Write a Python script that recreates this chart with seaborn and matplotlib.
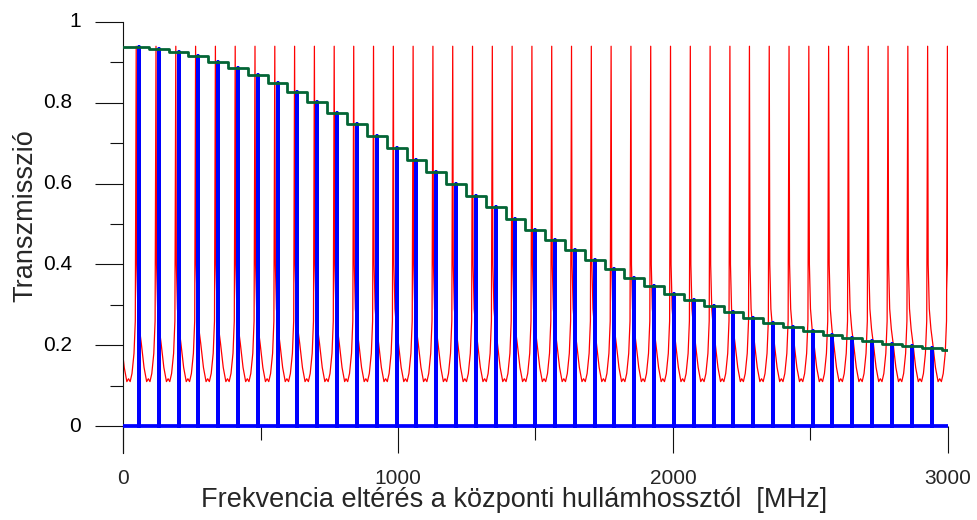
import numpy as np
import pandas as pd
import matplotlib
matplotlib.use("Agg")
import matplotlib.pyplot as plt
import seaborn as sns
from matplotlib.ticker import MultipleLocator

# ---------------- data ----------------
# resonance positions (MHz) and their transmitted peak heights (blue comb)
peak_freqs = [58, 130, 202, 274, 346, 418, 490, 562, 634, 706, 778, 850, 922, 995,
              1067, 1139, 1211, 1283, 1355, 1427, 1499, 1571, 1643, 1715, 1787, 1860,
              1932, 2004, 2076, 2148, 2220, 2292, 2364, 2436, 2508, 2580, 2652, 2724,
              2797, 2869, 2941]
peak_heights = [0.939, 0.933, 0.925, 0.916, 0.902, 0.887, 0.869, 0.848, 0.826, 0.801,
                0.775, 0.747, 0.718, 0.687, 0.658, 0.629, 0.599, 0.569, 0.541, 0.512,
                0.485, 0.460, 0.435, 0.412, 0.389, 0.367, 0.347, 0.328, 0.313, 0.298,
                0.282, 0.267, 0.256, 0.244, 0.234, 0.225, 0.217, 0.210, 0.204, 0.198,
                0.193]
# envelope (green step line): one more step beyond the last resonance
envelope_extra_freq = 3013
envelope_extra_height = 0.188

# red etalon transmission: apex positions (MHz) and one period's shape around an apex
red_apex_freqs = [-24, 48, 120, 192, 264, 336, 408, 480, 552, 624, 696, 768, 839, 911,
                  983, 1055, 1127, 1199, 1271, 1343, 1415, 1487, 1559, 1631, 1703, 1775,
                  1847, 1919, 1991, 2063, 2135, 2207, 2278, 2350, 2422, 2494, 2566, 2638,
                  2710, 2782, 2854, 2926, 2998]
red_profile_offsets = [-28, -22, -15.3, -8, -3.3, 0, 2.0, 6.0, 12.0, 18.5, 28.5, 38]
red_profile_values = [0.117, 0.110, 0.13, 0.18, 0.26, 0.94, 0.40, 0.29, 0.24, 0.205,
                      0.145, 0.110]

x_ticks = [0, 1000, 2000, 3000]
y_ticks = [0, 0.2, 0.4, 0.6, 0.8, 1]
y_tick_labels = ["0", "0.2", "0.4", "0.6", "0.8", "1"]
x_label = "Frekvencia eltérés a központi hullámhossztól  [MHz]"
y_label = "Transzmisszió"

# ---------------- build plotting tables ----------------
red_x, red_y = [], []
for a in red_apex_freqs:
    for o, v in zip(red_profile_offsets, red_profile_values):
        red_x.append(a + o)
        red_y.append(v)
red_df = pd.DataFrame({"f": red_x, "T": red_y})

comb_x, comb_y = [0.0], [0.0]
for p, h in zip(peak_freqs, peak_heights):
    comb_x += [p, p, p]
    comb_y += [0.0, h, 0.0]
comb_x.append(3000.0)
comb_y.append(0.0)
comb_df = pd.DataFrame({"f": comb_x, "T": comb_y})

env_f = peak_freqs + [envelope_extra_freq]
env_h = peak_heights + [envelope_extra_height]
edges = [0.0] + [(env_f[i] + env_f[i + 1]) / 2 for i in range(len(env_f) - 1)] + [3000.0]
env_df = pd.DataFrame({"f": edges, "T": env_h + [env_h[-1]]})

# ---------------- style ----------------
sns.set_style("ticks")
plt.rcParams["font.family"] = ["Liberation Sans", "DejaVu Sans"]

fig = plt.figure(figsize=(9.77, 5.2), dpi=100)
ax = fig.add_axes([0.1259, 0.1288, 0.8444, 0.8289])

sns.lineplot(data=red_df, x="f", y="T", sort=False, estimator=None, color="#ff0000",
             linewidth=0.9, ax=ax, zorder=2)
sns.lineplot(data=comb_df, x="f", y="T", sort=False, estimator=None, color="#0000ff",
             linewidth=2.7, ax=ax, zorder=3)
sns.lineplot(data=env_df, x="f", y="T", sort=False, estimator=None, color="#036535",
             linewidth=2.0, drawstyle="steps-post", ax=ax, zorder=4)

ax.set_xlim(0, 3000)
ax.set_ylim(-0.0668, 1.0)

for s in ["top", "right"]:
    ax.spines[s].set_visible(False)
ax.spines["bottom"].set_position(("data", 0))
ax.spines["bottom"].set_color("none")
ax.spines["left"].set_color("#111111")
ax.spines["left"].set_linewidth(0.8)

ax.set_xticks(x_ticks)
ax.set_xticklabels([str(t) for t in x_ticks])
ax.xaxis.set_minor_locator(MultipleLocator(500))
ax.set_yticks(y_ticks)
ax.yaxis.set_minor_locator(MultipleLocator(0.1))
ax.tick_params(axis="x", which="major", length=19.4, width=0.8, color="#111111",
               direction="out", pad=11.5, labelsize=15)
ax.tick_params(axis="x", which="minor", length=10, width=0.8, color="#111111",
               direction="out")
ax.tick_params(axis="y", which="major", length=20.2, width=0.8, color="#111111",
               direction="out", labelleft=False)
ax.tick_params(axis="y", which="minor", length=9.4, width=0.8, color="#111111",
               direction="out")

ytr = ax.get_yaxis_transform()
for t, lab in zip(y_ticks, y_tick_labels):
    xpos = -0.0509 if "." not in lab else -0.0618
    ax.text(xpos, t, lab, transform=ytr, ha="right", va="center", fontsize=15,
            color="black")

ax.set_xlabel(x_label, fontsize=19.5)
ax.set_ylabel(y_label, fontsize=19.5)
ax.xaxis.set_label_coords(0.474, -0.078)
ax.yaxis.set_label_coords(-0.1024, 0.55)

ax.grid(False)
if ax.get_legend() is not None:
    ax.get_legend().remove()

fig.savefig("out.png", dpi=100)
